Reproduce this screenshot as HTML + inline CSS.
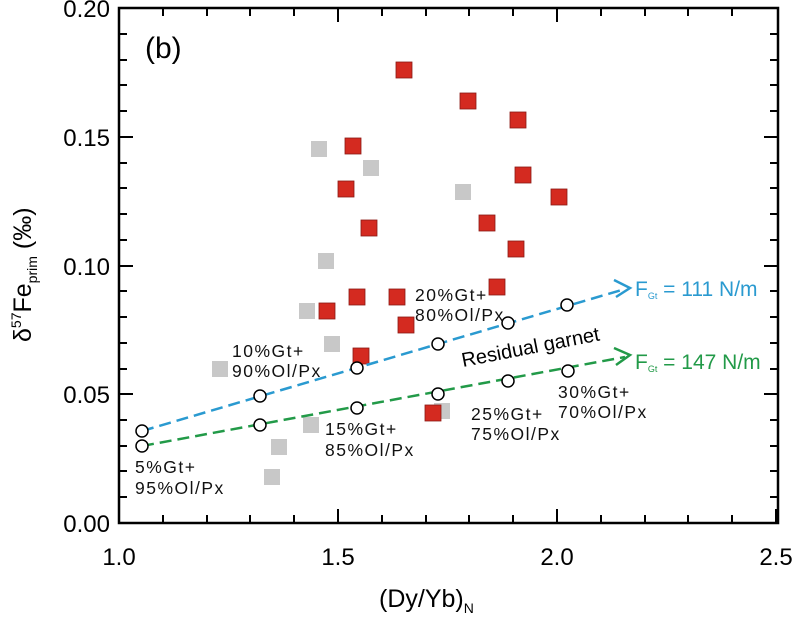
<!DOCTYPE html><html><head><style>body{margin:0;background:#fff}</style></head><body>
<svg width="802" height="614" xmlns="http://www.w3.org/2000/svg" font-family="Liberation Sans, Arial, sans-serif">
<rect x="119" y="8" width="659" height="515" fill="none" stroke="#000" stroke-width="2.5"/>
<g stroke="#000" stroke-width="2">
<path d="M119 523v-14M338 523v-14M557 523v-14M776 523v-14M119 8v14M338 8v14M557 8v14"/>
<path d="M163 523v-8M207 523v-8M250 523v-8M294 523v-8M382 523v-8M426 523v-8M469 523v-8M513 523v-8M601 523v-8M645 523v-8M688 523v-8M732 523v-8M163 8v8M207 8v8M250 8v8M294 8v8M382 8v8M426 8v8M469 8v8M513 8v8M601 8v8M645 8v8M688 8v8M732 8v8"/>
<path d="M119 394h14M119 266h14M119 137h14M778 394h-14M778 266h-14M778 137h-14"/>
<path d="M119 497h8M119 471h8M119 446h8M119 420h8M119 369h8M119 343h8M119 317h8M119 291h8M119 240h8M119 214h8M119 188h8M119 163h8M119 111h8M119 85h8M119 60h8M119 34h8M778 497h-8M778 471h-8M778 446h-8M778 420h-8M778 369h-8M778 343h-8M778 317h-8M778 291h-8M778 240h-8M778 214h-8M778 188h-8M778 163h-8M778 111h-8M778 85h-8M778 60h-8M778 34h-8"/>
</g>
<g font-size="24" text-anchor="end" fill="#000">
<text x="110" y="532">0.00</text><text x="110" y="403">0.05</text><text x="110" y="275">0.10</text><text x="110" y="146">0.15</text><text x="110" y="17">0.20</text>
</g>
<g font-size="24" text-anchor="middle"><text x="119" y="565">1.0</text><text x="338" y="565">1.5</text><text x="557" y="565">2.0</text><text x="776" y="565">2.5</text></g>
<text x="379" y="607" font-size="25">(Dy/Yb)<tspan font-size="14" dy="6">N</tspan></text>
<text transform="translate(31,342) rotate(-90)" font-size="25">δ<tspan font-size="14" dy="-10">57</tspan><tspan dy="10">Fe</tspan><tspan font-size="14" dy="6">prim</tspan><tspan dy="-6"> (‰)</tspan></text>
<text x="145" y="58" font-size="30">(b)</text>
<g fill="#c8c8c8">
<rect x="311" y="141" width="16" height="16"/><rect x="363" y="160" width="16" height="16"/><rect x="455" y="184" width="16" height="16"/><rect x="318" y="253" width="16" height="16"/><rect x="299" y="303" width="16" height="16"/><rect x="324" y="336" width="16" height="16"/><rect x="212" y="361" width="16" height="16"/><rect x="434" y="403" width="16" height="16"/><rect x="303" y="417" width="16" height="16"/><rect x="271" y="439" width="16" height="16"/><rect x="264" y="469" width="16" height="16"/>
</g>
<g fill="#d42a20" stroke="#8a1a14" stroke-width="0.8">
<rect x="396" y="62" width="16" height="16"/><rect x="460" y="93" width="16" height="16"/><rect x="510" y="112" width="16" height="16"/><rect x="345" y="138" width="16" height="16"/><rect x="338" y="181" width="16" height="16"/><rect x="515" y="167" width="16" height="16"/><rect x="551" y="189" width="16" height="16"/><rect x="361" y="220" width="16" height="16"/><rect x="479" y="215" width="16" height="16"/><rect x="508" y="241" width="16" height="16"/><rect x="489" y="279" width="16" height="16"/><rect x="349" y="289" width="16" height="16"/><rect x="389" y="289" width="16" height="16"/><rect x="319" y="303" width="16" height="16"/><rect x="398" y="317" width="16" height="16"/><rect x="353" y="348" width="16" height="16"/><rect x="425" y="405" width="16" height="16"/>
</g>
<g fill="none" stroke-width="2.5" stroke-dasharray="12,6">
<path d="M142 431L625 289" stroke="#2a9ad0"/>
<path d="M142 446L625 357" stroke="#229a48"/>
</g>
<path d="M614 280L630 288L616 297" fill="none" stroke="#2a9ad0" stroke-width="2.5"/>
<path d="M614 348L630 355L616 365" fill="none" stroke="#229a48" stroke-width="2.5"/>
<g fill="#fff" stroke="#000" stroke-width="1.5">
<circle cx="142" cy="431" r="6"/><circle cx="260" cy="396" r="6"/><circle cx="357" cy="368" r="6"/><circle cx="438" cy="344" r="6"/><circle cx="508" cy="323" r="6"/><circle cx="567" cy="305" r="6"/>
<circle cx="142" cy="446" r="6"/><circle cx="260" cy="425" r="6"/><circle cx="357" cy="408" r="6"/><circle cx="438" cy="394" r="6"/><circle cx="508" cy="381" r="6"/><circle cx="568" cy="371" r="6"/>
</g>
<text x="635" y="296" font-size="21" fill="#2a9ad0">F<tspan font-size="9" dy="3">Gt</tspan><tspan dy="-3"> = 111 N/m</tspan></text>
<text x="635" y="369" font-size="21" fill="#229a48">F<tspan font-size="9" dy="3">Gt</tspan><tspan dy="-3"> = 147 N/m</tspan></text>
<text transform="translate(463,367) rotate(-11)" font-size="20">Residual garnet</text>
<g font-size="17.5" fill="#111" letter-spacing="1.5">
<text x="135" y="473">5%Gt+</text><text x="135" y="494">95%Ol/Px</text>
<text x="232" y="357">10%Gt+</text><text x="232" y="377">90%Ol/Px</text>
<text x="325" y="435">15%Gt+</text><text x="325" y="456">85%Ol/Px</text>
<text x="415" y="301">20%Gt+</text><text x="415" y="321">80%Ol/Px</text>
<text x="471" y="420">25%Gt+</text><text x="471" y="440">75%Ol/Px</text>
<text x="558" y="398">30%Gt+</text><text x="558" y="418">70%Ol/Px</text>
</g>
</svg></body></html>
